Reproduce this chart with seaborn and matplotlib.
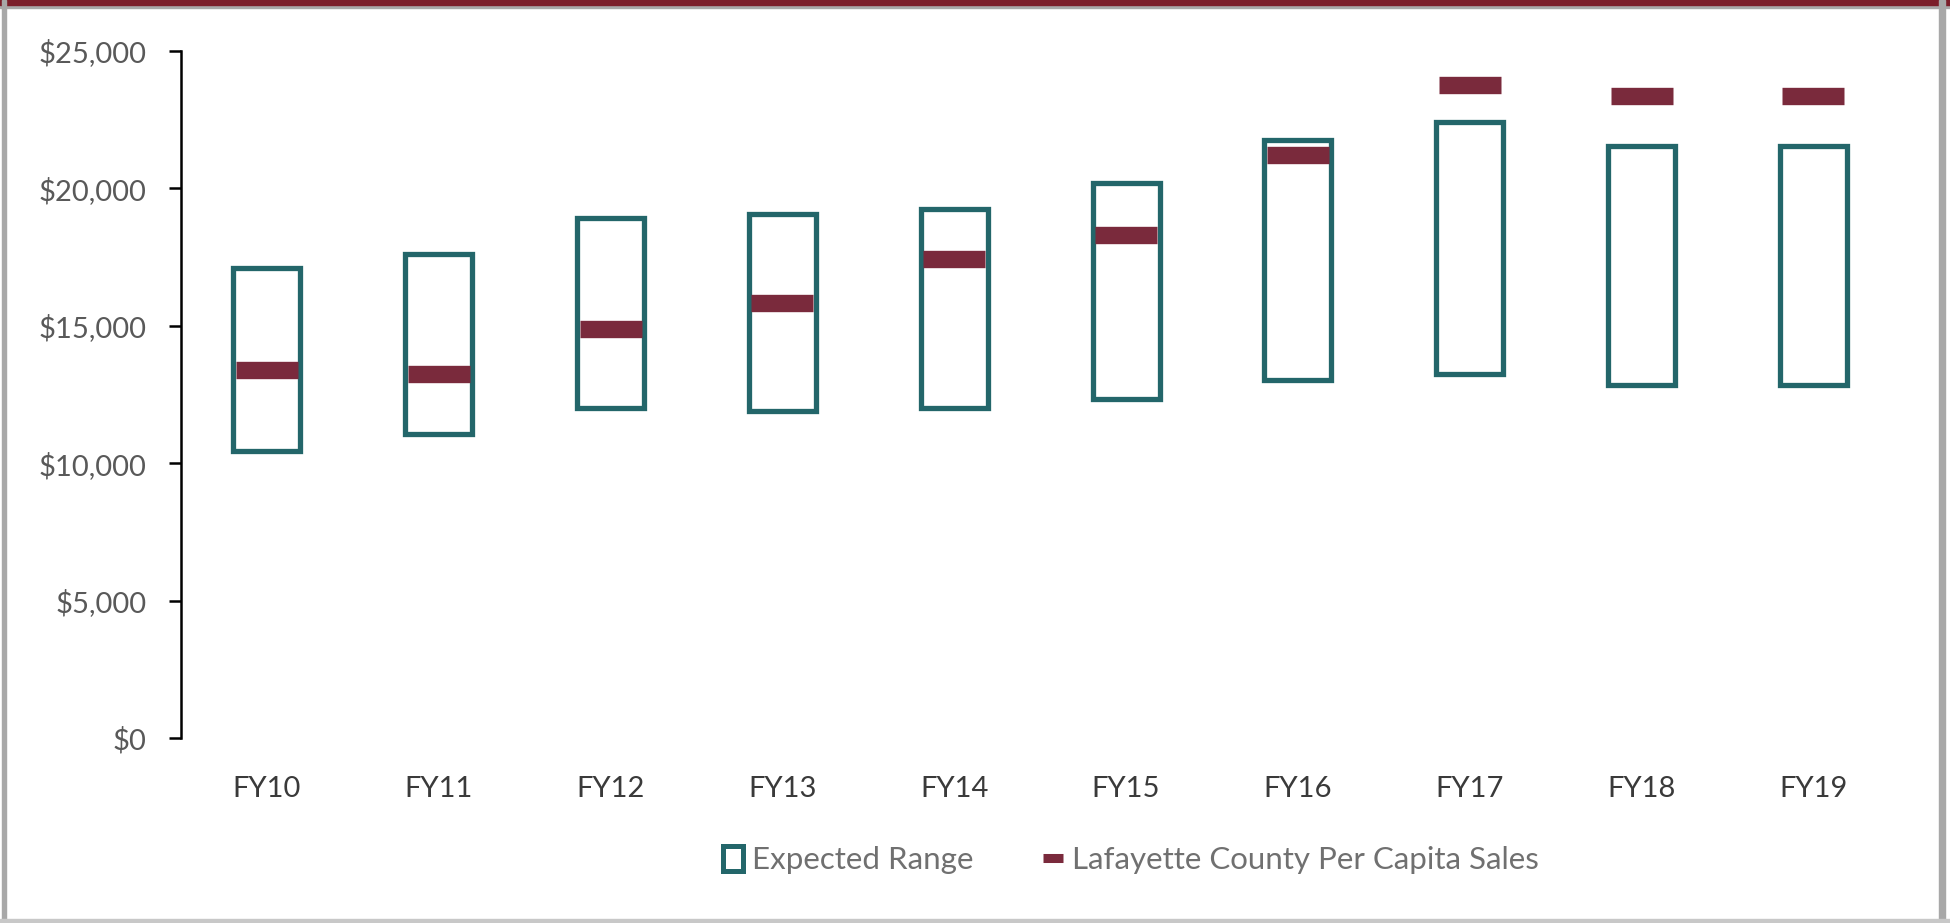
import matplotlib.pyplot as plt
import seaborn as sns
import pandas as pd
from matplotlib.patches import Rectangle
from matplotlib.lines import Line2D
from matplotlib.ticker import FuncFormatter

years = ["FY10", "FY11", "FY12", "FY13", "FY14", "FY15", "FY16", "FY17", "FY18", "FY19"]
range_low = [10430, 11070, 12020, 11890, 12020, 12340, 13020, 13250, 12840, 12840]
range_high = [17100, 17600, 18920, 19060, 19240, 20190, 21780, 22410, 21550, 21550]
per_capita = [13380, 13250, 14880, 15830, 17420, 18290, 21230, 23780, 23380, 23380]

TEAL = "#23666A"
WINE = "#7A2A3C"

sns.set_style("white")
plt.rcParams["font.family"] = ["Lato", "DejaVu Sans"]

df = pd.DataFrame({"year": years, "low": range_low, "high": range_high, "value": per_capita})
df["span"] = df["high"] - df["low"]

fig = plt.figure(figsize=(19.5, 9.23), dpi=100)
ax = fig.add_axes([0.0928, 0.2004, 0.8812, 0.7443])

sns.barplot(
    data=df, x="year", y="span", order=years, bottom=df["low"].values,
    width=0.39, color=TEAL, fill=False, linewidth=3.8,
    ax=ax, zorder=2
)

sns.scatterplot(
    data=df, x="year", y="value", marker="_", s=44 ** 2,
    linewidth=12.5, color=WINE, ax=ax, zorder=3, legend=False
)

ax.set_ylim(0, 25000)
ax.set_xlim(-0.5, 9.5)
ax.set_yticks(range(0, 25001, 5000))
ax.yaxis.set_major_formatter(FuncFormatter(lambda v, p: f"${v:,.0f}"))
ax.set_xlabel("")
ax.set_ylabel("")

for side in ["top", "right", "bottom"]:
    ax.spines[side].set_visible(False)
ax.spines["left"].set_color("black")
ax.spines["left"].set_linewidth(1.8)

ax.tick_params(axis="y", left=True, length=8.6, width=1.8, color="black",
               pad=16, labelsize=21, labelcolor="#595959")
ax.tick_params(axis="x", bottom=False, pad=24, labelsize=21, labelcolor="#3A3A3A")

handles = [
    Rectangle((0, 0), 1, 1, facecolor="white", edgecolor=TEAL, linewidth=3.6),
    Line2D([], [], color=WINE, linewidth=0, marker="_", markersize=15, markeredgewidth=6.5),
]
fig.legend(
    handles, ["Expected Range", "Lafayette County Per Capita Sales"],
    loc="center", bbox_to_anchor=(0.58, 0.068), ncol=2, frameon=False,
    fontsize=22.5, labelcolor="#707070", handlelength=0.65, handleheight=0.85,
    handletextpad=0.3, columnspacing=2.2
)

# image frame
fig.patches.append(Rectangle((0, 0.991), 1, 0.009, transform=fig.transFigure, color="#A8A8A8", zorder=0))
fig.patches.append(Rectangle((0, 0.995), 1, 0.005, transform=fig.transFigure, color="#7B1E2A", zorder=1))
fig.patches.append(Rectangle((0.001, 0), 0.002, 1, transform=fig.transFigure, color="#A8A8A8"))
fig.patches.append(Rectangle((0.9945, 0), 0.003, 1, transform=fig.transFigure, color="#A8A8A8"))
fig.patches.append(Rectangle((0, 0), 1, 0.004, transform=fig.transFigure, color="#C8C8C8"))

plt.savefig("out.png", dpi=100)
